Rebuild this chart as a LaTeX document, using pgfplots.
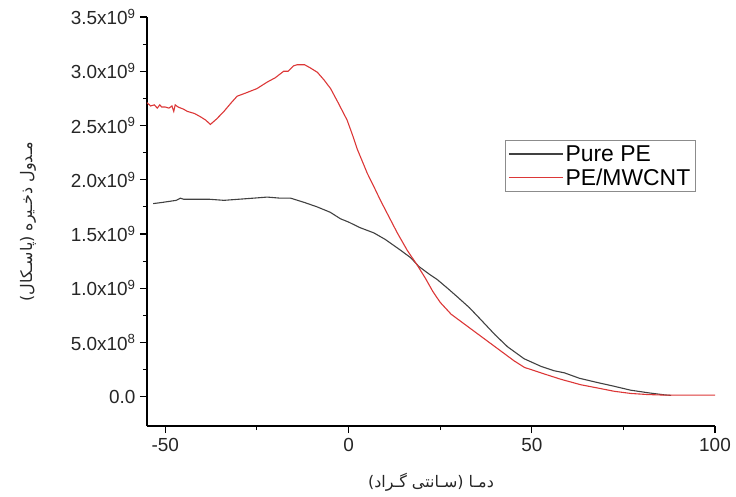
\documentclass[border=0pt]{standalone}
\usepackage{fontspec}
\setmainfont{Liberation Sans}
\newfontfamily\arabicfont[Script=Arabic]{DejaVu Sans}
\TeXXeTstate=1
\usepackage{pgfplots}
\pgfplotsset{compat=1.18}
\definecolor{myred}{RGB}{220,55,55}
\definecolor{mygray}{RGB}{65,65,65}
\begin{document}
\begin{tikzpicture}
\path[use as bounding box] (-147bp,-71bp) rectangle (589bp,426bp);
\begin{axis}[
  scale only axis,
  width=568bp, height=409bp,
  xmin=-55, xmax=100,
  ymin=-0.27e9, ymax=3.5e9,
  axis x line*=bottom, axis y line*=left,
  axis line style={line width=1.3bp},
  tick align=outside,
  major tick length=7bp, minor tick length=4bp,
  xtick style={line width=1.1bp, black},
  ytick style={line width=1.1bp, black},
  xtick={-50,0,50,100}, xticklabels={-50,0,50,100},
  minor xtick={-25,25,75},
  ytick={0,0.5e9,1e9,1.5e9,2e9,2.5e9,3e9,3.5e9},
  yticklabels={0.0,5.0x10\textsuperscript{8},1.0x10\textsuperscript{9},1.5x10\textsuperscript{9},2.0x10\textsuperscript{9},2.5x10\textsuperscript{9},3.0x10\textsuperscript{9},3.5x10\textsuperscript{9}},
  minor ytick={0.25e9,0.75e9,1.25e9,1.75e9,2.25e9,2.75e9,3.25e9},
  scaled y ticks=false,
  tick label style={font=\fontsize{19}{21}\selectfont, text=black!85},
  yticklabel style={xshift=-1bp},
  xticklabel style={yshift=-2bp},
  xlabel={\arabicfont\beginR دمـا (سـانتی گـراد)\endR},
  ylabel={\arabicfont\beginR مـدول ذخـیره (پاسـکال)\endR},
  label style={font=\fontsize{16}{18}\selectfont, text=black!85},
  xlabel style={at={(axis description cs:0.5,0)}, anchor=center, yshift=-56bp},
  ylabel style={at={(axis description cs:0,0.5)}, anchor=center, xshift=0bp, yshift=119bp},
  legend style={at={(axis cs:42.7,2.366e9)}, anchor=north west, draw=black!45, line width=0.6bp,
     font=\fontsize{23}{25}\selectfont, inner sep=3bp, row sep=2bp},
  legend cell align=left,
  clip=false,
]
\addlegendimage{legend image code/.code={\draw[draw=mygray, line width=1.2bp] (0bp,0bp) -- (54bp,0bp);}}
\addlegendentry{Pure PE}
\addlegendimage{legend image code/.code={\draw[draw=myred, line width=1.2bp] (0bp,0bp) -- (54bp,0bp);}}
\addlegendentry{PE/MWCNT}
\addplot[color=mygray, line width=1.1bp, forget plot] coordinates {
(-53.3,1.78e9) (-51,1.79e9) (-49,1.80e9) (-47,1.81e9) (-45.9,1.83e9) (-45,1.82e9) (-42,1.82e9)
(-38,1.82e9) (-34,1.81e9) (-30,1.82e9) (-26,1.83e9) (-22.2,1.84e9) (-18.6,1.83e9) (-15.8,1.83e9)
(-12,1.79e9) (-8.6,1.75e9) (-5,1.70e9) (-2.2,1.64e9) (0,1.61e9) (3,1.56e9) (6.9,1.51e9)
(10,1.45e9) (14.2,1.35e9) (17,1.28e9) (19.2,1.20e9) (22,1.13e9) (24.2,1.08e9) (27,1.00e9)
(29.7,0.92e9) (33,0.82e9) (36.1,0.71e9) (40,0.57e9) (43.4,0.46e9) (47.9,0.35e9) (52.5,0.28e9)
(56,0.24e9) (58.9,0.22e9) (63,0.17e9) (68,0.13e9) (72,0.10e9) (77,0.06e9) (82,0.035e9)
(86.2,0.017e9) (88,0.012e9)
};
\addplot[color=myred, line width=1.1bp, forget plot] coordinates {
(-55,2.71e9) (-54,2.68e9) (-53,2.69e9) (-52.2,2.66e9) (-51.5,2.69e9) (-51,2.67e9) (-50,2.67e9)
(-49,2.66e9) (-48.2,2.68e9) (-47.7,2.63e9) (-47.3,2.69e9) (-46.5,2.67e9) (-45,2.65e9) (-44,2.63e9)
(-42,2.61e9) (-40.4,2.58e9) (-39,2.55e9) (-37.7,2.51e9) (-36,2.56e9) (-34,2.63e9) (-32,2.71e9)
(-30.4,2.77e9) (-28,2.80e9) (-25,2.84e9) (-22.2,2.90e9) (-20,2.94e9) (-17.7,3.00e9) (-16.5,3.00e9)
(-15,3.05e9) (-14,3.06e9) (-12,3.06e9) (-10.4,3.03e9) (-8.5,2.99e9) (-6.7,2.92e9) (-4.9,2.84e9)
(-3,2.72e9) (-0.4,2.55e9) (1,2.42e9) (2.4,2.28e9) (4,2.15e9) (5.1,2.06e9) (7,1.93e9) (8.7,1.81e9)
(11,1.66e9) (13.3,1.51e9) (16,1.35e9) (18.8,1.21e9) (21,1.09e9) (23,0.97e9) (25,0.87e9)
(28,0.76e9) (30,0.71e9) (32.4,0.65e9) (36,0.56e9) (38.8,0.49e9) (42,0.41e9) (45.2,0.33e9)
(48,0.27e9) (52.5,0.22e9) (54.3,0.20e9) (58,0.16e9) (63.4,0.11e9) (68,0.08e9) (72.5,0.05e9)
(77,0.03e9) (81.6,0.02e9) (86,0.015e9) (90,0.015e9) (100,0.015e9)
};
\end{axis}
\end{tikzpicture}
\end{document}
